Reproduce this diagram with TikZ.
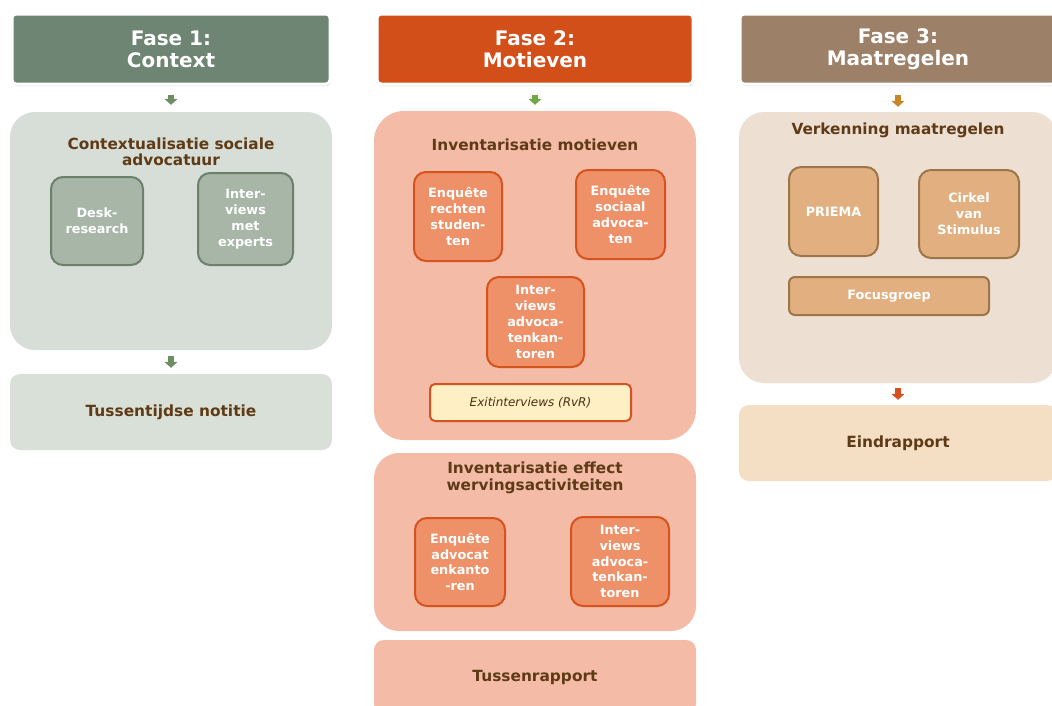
\documentclass[tikz,border=0pt]{standalone}
\usepackage{fontspec}
\setmainfont{DejaVu Sans}
\usetikzlibrary{shadows,arrows.meta}
\definecolor{hA}{HTML}{6D8572}
\definecolor{hB}{HTML}{D24F1A}
\definecolor{hC}{HTML}{9C8068}
\definecolor{bA}{HTML}{D7DDD7}
\definecolor{bAb}{HTML}{D9E0D8}
\definecolor{iA}{HTML}{A7B6A7}
\definecolor{iAd}{HTML}{6C806C}
\definecolor{bB}{HTML}{F4BBA6}
\definecolor{iB}{HTML}{EE9068}
\definecolor{iBd}{HTML}{D6531F}
\definecolor{exitc}{HTML}{FEF0C4}
\definecolor{bC}{HTML}{EEDFD3}
\definecolor{bCb}{HTML}{F4DFC5}
\definecolor{iC}{HTML}{E2B080}
\definecolor{iCd}{HTML}{9C7648}
\definecolor{tbrown}{HTML}{5E3B16}
\definecolor{arA}{HTML}{6B8F62}
\definecolor{arB}{HTML}{70A845}
\definecolor{arC}{HTML}{C8862A}
\definecolor{arD}{HTML}{D84F1F}
\tikzset{
  header/.style={rectangle, rounded corners=4pt, draw=white, line width=3pt,
    drop shadow={opacity=0.3, shadow xshift=1pt, shadow yshift=-2pt},
    text=white, align=center, inner sep=0pt,
    font=\fontsize{20}{22}\selectfont\bfseries},
  bigbox/.style={rectangle, rounded corners=25pt, draw=none, inner sep=0pt},
  repbox/.style={rectangle, rounded corners=10pt, draw=none, inner sep=0pt,
    text=tbrown, font=\fontsize{15.4}{16}\selectfont\bfseries},
  ttl/.style={text=tbrown, align=center, inner sep=0pt,
    font=\fontsize{15.3}{16.5}\selectfont\bfseries},
  inbox/.style={rectangle, rounded corners=12pt, line width=2pt, inner sep=0pt,
    text=white, align=center, font=\fontsize{12.8}{15.8}\selectfont\bfseries},
  greenbox/.style={inbox, fill=iA, draw=iAd},
  orbox/.style={inbox, fill=iB, draw=iBd},
  tanbox/.style={inbox, fill=iC, draw=iCd},
  blk/.style={line width=6pt, -{Triangle[width=13pt,length=6pt]}},
}
\begin{document}
\begin{tikzpicture}[x=1pt,y=-1pt]
\useasboundingbox (0,0) rectangle (1052,705);
% ---------- Column 1 ----------
\node[header, fill=hA, minimum width=318, minimum height=70] (h1) at (171,49) {Fase 1:\\Context};
\node[bigbox, fill=bA, minimum width=322, minimum height=238] (b1) at (171,231) {};
\node[ttl] (t1) at (171,152) {Contextualisatie sociale\\advocatuur};
\node[greenbox, minimum width=92, minimum height=88] (desk) at (97,221) {Desk-\\research};
\node[greenbox, minimum width=95, minimum height=92] (iexp) at (245.5,219) {Inter-\\views\\met\\experts};
\node[repbox, fill=bAb, minimum width=322, minimum height=76] (tn) at (171,412) {Tussentijdse notitie};
\draw[blk, arA, shorten <=9pt, shorten >=7pt] (h1.south) -- (b1.north);
\draw[blk, arA, shorten <=6pt, shorten >=6pt] (b1.south) -- (tn.north);
% ---------- Column 2 ----------
\node[header, fill=hB, minimum width=316, minimum height=70] (h2) at (535,49) {Fase 2:\\Motieven};
\node[bigbox, fill=bB, minimum width=322, minimum height=329, rounded corners=30pt] (b2) at (535,275.5) {};
\node[ttl] (t2) at (535,145) {Inventarisatie motieven};
\node[orbox, minimum width=88, minimum height=89] (eq1) at (458,216.5) {Enquête\\rechten\\studen-\\ten};
\node[orbox, minimum width=89, minimum height=89] (eq2) at (620.5,214.5) {Enquête\\sociaal\\advoca-\\ten};
\node[orbox, minimum width=97, minimum height=90] (int2) at (535.5,322) {Inter-\\views\\advoca-\\tenkan-\\toren};
\node[rectangle, rounded corners=5pt, fill=exitc, draw=iBd, line width=2pt,
  minimum width=201, minimum height=37, text=tbrown!80!black,
  font=\fontsize{12}{14}\selectfont\itshape] (exit) at (530.5,402.5) {Exitinterviews (RvR)};
\node[bigbox, fill=bB, minimum width=322, minimum height=178] (b3) at (535,542) {};
\node[ttl] (t3) at (535,478) {Inventarisatie effect\\wervingsactiviteiten};
\node[orbox, minimum width=90, minimum height=88] (eq3) at (460,562) {Enquête\\advocat\\enkanto\\-ren};
\node[orbox, minimum width=98, minimum height=89] (int3) at (620,561.5) {Inter-\\views\\advoca-\\tenkan-\\toren};
\node[repbox, fill=bB, minimum width=322, minimum height=74] (tr) at (535,677) {Tussenrapport};
\draw[blk, arB, shorten <=9pt, shorten >=6pt] (h2.south) -- (b2.north);
% ---------- Column 3 ----------
\node[header, fill=hC, minimum width=316, minimum height=70] (h3) at (898,49) {Fase 3:\\Maatregelen};
\node[bigbox, fill=bC, minimum width=318, minimum height=271] (b5) at (898,247.5) {};
\node[ttl] (t5) at (898,130) {Verkenning maatregelen};
\node[tanbox, minimum width=89, minimum height=89] (priema) at (833.5,211.5) {PRIEMA};
\node[tanbox, minimum width=100, minimum height=88] (cirkel) at (969,214) {Cirkel\\van\\Stimulus};
\node[tanbox, rounded corners=6pt, minimum width=200, minimum height=38] (focus) at (889,296) {Focusgroep};
\node[repbox, fill=bCb, minimum width=318, minimum height=76] (er) at (898,443) {Eindrapport};
\draw[blk, arC, shorten <=9pt, shorten >=5pt] (h3.south) -- (b5.north);
\draw[blk, arD, shorten <=5pt, shorten >=5pt] (b5.south) -- (er.north);
\end{tikzpicture}
\end{document}
